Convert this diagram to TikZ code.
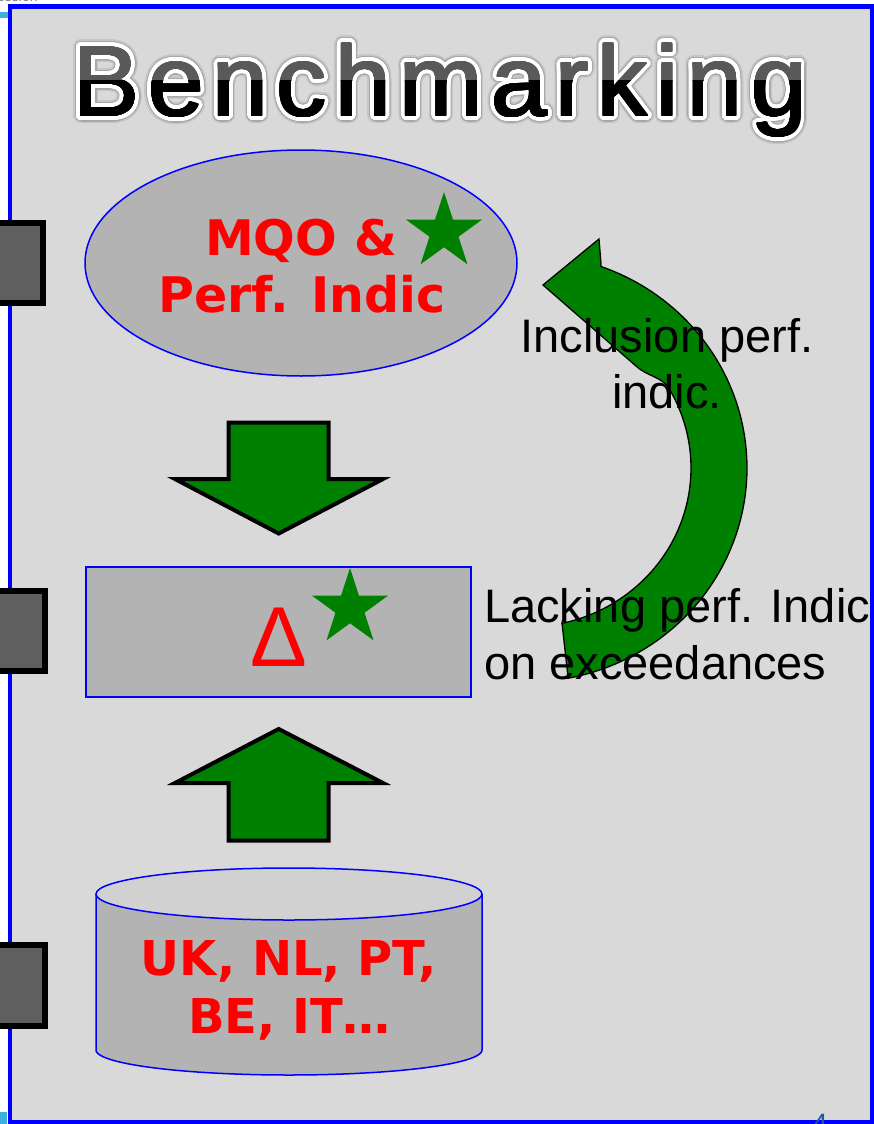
\documentclass[tikz,border=0pt]{standalone}
\usepackage{fontspec}
\setmainfont{Liberation Sans}
\newfontfamily\verdfont{DejaVu Sans}
\newfontfamily\titlefont[LetterSpace=8.6]{Liberation Sans}
\usepackage[copies]{contour}
\usetikzlibrary{shapes.geometric}
\definecolor{bgray}{HTML}{D9D9D9}
\definecolor{shapegray}{HTML}{B3B3B3}
\definecolor{topgray}{HTML}{D1D1D1}
\definecolor{sqgray}{HTML}{5F5F5F}
\definecolor{arrgreen}{HTML}{008000}
\definecolor{framebl}{HTML}{0000FF}
\definecolor{lightbl}{HTML}{3CB0E0}
\definecolor{titlegray}{HTML}{595959}
\definecolor{halogray}{HTML}{A8A8A8}
\definecolor{halolight}{HTML}{C6C6C6}
\definecolor{pgnum}{HTML}{2255A4}
\begin{document}
\begin{tikzpicture}[x=1pt,y=-1pt,
  blockarrow/.style={fill=arrgreen, draw=black, line width=4pt, line join=miter},
  shapebox/.style={fill=shapegray, draw=framebl, line width=1.5pt},
  redtxt/.style={text=red, font=\verdfont\bfseries\fontsize{49}{57}\selectfont, anchor=base, inner sep=0pt},
  cyltxt/.style={text=red, font=\verdfont\bfseries\fontsize{48}{57}\selectfont, anchor=base, inner sep=0pt},
  blacktxt/.style={text=black, font=\fontsize{47}{56}\selectfont, inner sep=0pt},
  starnode/.style={star, star points=5, star point ratio=2.618, fill=arrgreen, minimum size=80pt, inner sep=0pt},
  sqbox/.style={rectangle, fill=sqgray, draw=black, line width=6pt, inner sep=0pt},
  titletxt/.style={font=\titlefont\fontsize{100}{112}\selectfont, anchor=base, inner sep=0pt}
]
\useasboundingbox (0,0) rectangle (874,1124);
\clip (0,0) rectangle (874,1124);
% page background
\fill[white] (0,0) rectangle (874,1124);
\node[anchor=base west, text=gray, font=\fontsize{14}{16}\selectfont, inner sep=0pt] (topcut) at (-3,2) {ession};
\fill[lightbl] (0,12) rectangle (8,18);
\fill[lightbl] (0,1112) rectangle (7,1124);
\fill[bgray] (10,6.5) rectangle (872,1122.5);
\draw[framebl, line width=4.5pt] (10,6.5) rectangle (872,1122.5);

% title: soft halo, white outline, two-tone fill
\node[titletxt, text=halolight] (t0) at (440,116) {\contourlength{7.5pt}\contournumber{40}\contour{halolight}{Benchmarking}};
\node[titletxt, text=halogray] (t1) at (440,116) {\contourlength{6pt}\contournumber{40}\contour{halogray}{Benchmarking}};
\node[titletxt, text=white] (t2) at (440,116) {\contourlength{4.8pt}\contournumber{40}\contour{white}{Benchmarking}};
\begin{scope}
  \clip (0,0) rectangle (874,80);
  \node[titletxt, text=titlegray] (t3) at (440,116) {\contourlength{0.9pt}\contournumber{16}\contour{titlegray}{Benchmarking}};
\end{scope}
\begin{scope}
  \clip (0,80) rectangle (874,200);
  \node[titletxt, text=black] (title) at (440,116) {\contourlength{0.9pt}\contournumber{16}\contour{black}{Benchmarking}};
\end{scope}

% top ellipse
\node[ellipse, shapebox, minimum width=432pt, minimum height=226pt, inner sep=0pt] (mqo) at (301,263) {};
\node[starnode] (star1) at (444,232) {};
\node[redtxt] (mqo1) at (301,255) {MQO \&};
\node[redtxt] (mqo2) at (302,312) {Perf. Indic};

% block arrows
\draw[blockarrow] (228.7,422.7) -- (328.7,422.7) -- (328.7,479) -- (383,479) -- (278.7,533.5) -- (175,479) -- (228.7,479) -- cycle;
\draw[blockarrow] (278.7,729) -- (383,783) -- (328.7,783) -- (328.7,840.7) -- (228.7,840.7) -- (228.7,783) -- (175,783) -- cycle;

% middle rectangle
\node[rectangle, shapebox, minimum width=385pt, minimum height=130pt, inner sep=0pt] (delta) at (278.5,632) {};
\node[starnode] (star2) at (350,608) {};
\node[anchor=base, text=red, font=\fontsize{85}{90}\selectfont, inner sep=0pt] (deltatxt) at (279,666) {Δ};

% cylinder
\fill[shapegray] (96,894) rectangle (482,1050);
\fill[shapegray] (289,1050) ellipse [x radius=193, y radius=25];
\draw[framebl, line width=1.5pt] (96,894) -- plot[domain=180:0, samples=80] ({289+193*cos(\x)},{1050+25*sin(\x)}) -- (482,894);
\draw[fill=topgray, draw=framebl, line width=1.5pt] (289,894) ellipse [x radius=193, y radius=26];
\node[cyltxt] (cyl1) at (289,975) {UK, NL, PT,};
\node[cyltxt] (cyl2) at (289.5,1033) {BE, IT…};

% curved arrow
\draw[fill=arrgreen, draw=black, line width=1.3pt, line join=miter]
  (568,677) -- (562,623)
  -- plot[domain=77.7:-30, samples=70] ({527+164*cos(\x)},{468+159*sin(\x)})
  .. controls (661,376) and (648,377) .. (636,366)
  -- (543,285) -- (599,239) -- (601,264)
  -- plot[domain=-70.4:79.3, samples=90] ({527+220*cos(\x)},{468+214*sin(\x)})
  -- cycle;

% labels
\node[blacktxt, anchor=base] (inc1) at (667,352) {Inclusion perf.};
\node[blacktxt, anchor=base] (inc2) at (667,408) {indic.};
\node[blacktxt, anchor=base west] (lack1) at (484,622) {Lacking perf. Indic};
\node[blacktxt, anchor=base west] (lack2) at (484,679) {on exceedances};

% left squares
\node[sqbox, minimum width=53pt, minimum height=80pt] (sq1) at (16.5,263) {};
\node[sqbox, minimum width=55pt, minimum height=80pt] (sq2) at (17.5,631) {};
\node[sqbox, minimum width=55pt, minimum height=81pt] (sq3) at (17.5,985.5) {};

% page number
\node[anchor=base, text=pgnum, font=\fontsize{28}{30}\selectfont, inner sep=0pt] (pg) at (820,1133) {4};
\end{tikzpicture}
\end{document}
